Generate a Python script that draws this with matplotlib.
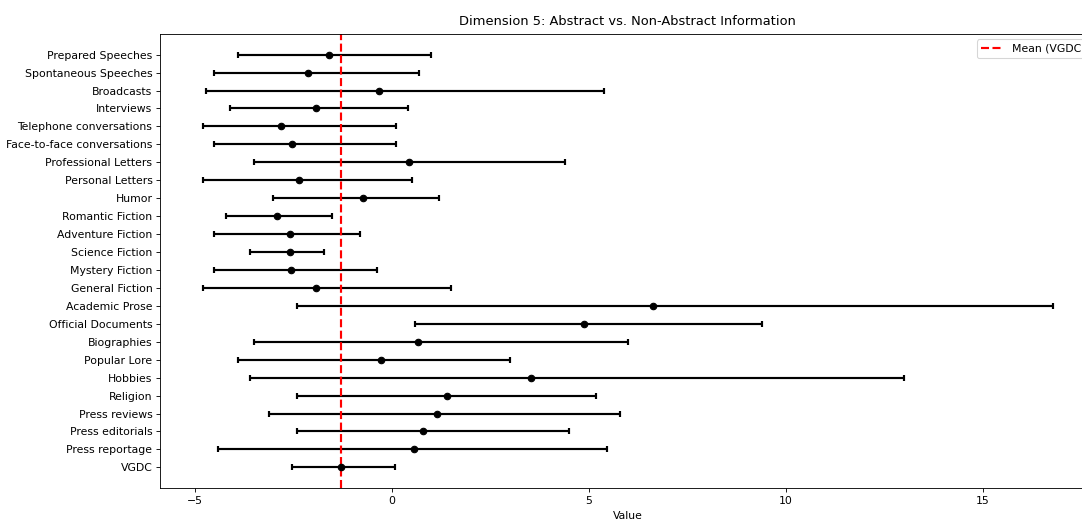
import numpy as np
import matplotlib
matplotlib.use("Agg")
import matplotlib.pyplot as plt

# register categories, top to bottom as shown
categories = [
    "Prepared Speeches", "Spontaneous Speeches", "Broadcasts", "Interviews",
    "Telephone conversations", "Face-to-face conversations",
    "Professional Letters", "Personal Letters", "Humor", "Romantic Fiction",
    "Adventure Fiction", "Science Fiction", "Mystery Fiction",
    "General Fiction", "Academic Prose", "Official Documents", "Biographies",
    "Popular Lore", "Hobbies", "Religion", "Press reviews",
    "Press editorials", "Press reportage", "VGDC",
]
means = [-1.61, -2.13, -0.34, -1.92, -2.81, -2.53, 0.42, -2.37, -0.74, -2.93,
         -2.60, -2.60, -2.57, -1.94, 6.62, 4.88, 0.65, -0.29, 3.53, 1.39,
         1.15, 0.80, 0.56, -1.30]
lows = [-3.92, -4.52, -4.72, -4.11, -4.81, -4.52, -3.51, -4.81, -3.01, -4.21,
        -4.52, -3.61, -4.52, -4.81, -2.42, 0.59, -3.51, -3.92, -3.61, -2.42,
        -3.11, -2.42, -4.41, -2.55]
highs = [1.00, 0.69, 5.39, 0.40, 0.10, 0.10, 4.39, 0.51, 1.20, -1.51,
         -0.80, -1.72, -0.39, 1.50, 16.77, 9.40, 5.98, 2.99, 12.99, 5.18,
         5.78, 4.49, 5.47, 0.08]
vgdc_mean = -1.30

means = np.array(means)
lows = np.array(lows)
highs = np.array(highs)
y = np.arange(len(categories))[::-1]

dpi = 78
fig = plt.figure(figsize=(1082 / dpi, 520 / dpi), dpi=dpi)
# the original image is cropped on the left and right, so the axes run past the edge
ax = fig.add_axes([160 / 1082, 32 / 520, 935 / 1082, 454 / 520])

ax.errorbar(means, y, xerr=[means - lows, highs - means], fmt='o',
            color='black', ecolor='black', elinewidth=2, capsize=3,
            capthick=2, markersize=6)
ax.axvline(vgdc_mean, color='red', linestyle='--', linewidth=2,
           label='Mean (VGDC)')

ax.set_yticks(y)
ax.set_yticklabels(categories)
ax.set_title("Dimension 5: Abstract vs. Non-Abstract Information", pad=8.5)
ax.set_xlabel("Value", labelpad=5)
ax.legend(loc='upper right')

fig.savefig("out.png", dpi=dpi)
